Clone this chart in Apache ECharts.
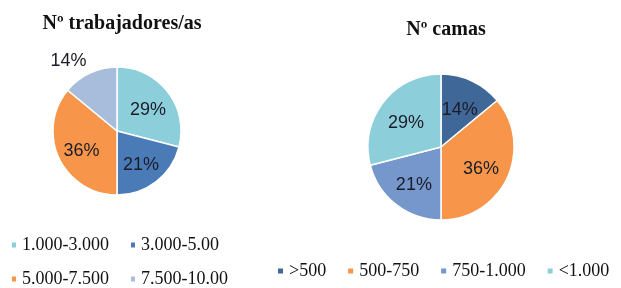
<!DOCTYPE html>
<html>
<head>
<meta charset="utf-8">
<script src="https://cdn.jsdelivr.net/npm/echarts@6/dist/echarts.min.js"></script>
<style>
  html, body { margin: 0; padding: 0; background: #fff; }
  #chart { width: 621px; height: 288px; }
</style>
</head>
<body>
<div id="chart"></div>
<script>
// Nº trabajadores/as
const trabCategorias = ['1.000-3.000', '3.000-5.000', '5.000-7.500', '7.500-10.000'];
const trabValores = [29, 21, 36, 14];
const trabColores = ['#8ccfdb', '#4a7bb7', '#f7964a', '#a8bcdc'];

// Nº camas
const camasCategorias = ['>500', '500-750', '750-1.000', '<1.000'];
const camasValores = [14, 36, 21, 29];
const camasColores = ['#3f6898', '#f7964a', '#7597cc', '#8ccfdb'];

const serif = 'Liberation Serif';
const sans = 'Liberation Sans';

var dom = document.getElementById('chart');
var myChart = echarts.init(dom, null, { renderer: 'canvas' });

function buildData(names, values, colors, outside) {
    return names.map(function (n, i) {
        const item = { name: n, value: values[i], itemStyle: { color: colors[i] } };
        if (outside.indexOf(i) >= 0) {
            item.label = { position: 'outside' };
            item.labelLine = { show: false, length: 10, length2: 0 };
        }
        return item;
    });
}

const labelStyle = {
    show: true,
    position: 'inside',
    formatter: '{c}%',
    fontFamily: sans,
    fontSize: 18,
    color: '#1c1c28'
};

// push the inside labels a bit further out (and down), like the original
function pushOut(cx, cy) {
    return function (params) {
        if (params.labelLinePoints) return { dx: 6, dy: -3 };
        const r = params.labelRect;
        const lx = r.x + r.width / 2, ly = r.y + r.height / 2;
        return { dx: (lx - cx) * 0.12, dy: (ly - cy) * 0.12 + 3 };
    };
}

const legendText = { fontFamily: serif, fontSize: 18, color: '#111' };
// the right-hand column of the left legend is clipped in the original
const clipped1 = { width: 86, overflow: 'truncate', ellipsis: '' };
const clipped2 = { width: 94, overflow: 'truncate', ellipsis: '' };

const option = {
    animation: false,
    title: [
        {
            text: 'Nº trabajadores/as',
            left: 117, top: 9, textAlign: 'center',
            textStyle: { fontFamily: serif, fontWeight: 'bold', fontSize: 20, color: '#111' }
        },
        {
            text: 'Nº camas',
            left: 441, top: 15, textAlign: 'center',
            textStyle: { fontFamily: serif, fontWeight: 'bold', fontSize: 20, color: '#111' }
        }
    ],
    legend: [
        {
            data: [trabCategorias[0], { name: trabCategorias[1], textStyle: clipped1 }],
            left: 5, top: 231,
            itemWidth: 6, itemHeight: 7, itemGap: 20,
            icon: 'rect',
            textStyle: legendText
        },
        {
            data: [trabCategorias[2], { name: trabCategorias[3], textStyle: clipped2 }],
            left: 5, top: 265,
            itemWidth: 6, itemHeight: 7, itemGap: 20,
            icon: 'rect',
            textStyle: legendText
        },
        {
            data: camasCategorias,
            left: 271, top: 257,
            itemWidth: 7, itemHeight: 7, itemGap: 20,
            icon: 'rect',
            textStyle: legendText
        }
    ],
    series: [
        {
            type: 'pie',
            center: [117, 131],
            radius: 64,
            startAngle: 90,
            clockwise: true,
            data: buildData(trabCategorias, trabValores, trabColores, [3]),
            itemStyle: { borderColor: '#fff', borderWidth: 1.5 },
            label: labelStyle,
            labelLine: { show: false },
            labelLayout: pushOut(117, 131)
        },
        {
            type: 'pie',
            center: [441, 147],
            radius: 73,
            startAngle: 90,
            clockwise: true,
            data: buildData(camasCategorias, camasValores, camasColores, []),
            itemStyle: { borderColor: '#fff', borderWidth: 1.5 },
            label: labelStyle,
            labelLine: { show: false },
            labelLayout: pushOut(441, 147)
        }
    ]
};

myChart.setOption(option);
window.addEventListener('resize', myChart.resize);
</script>
</body>
</html>
